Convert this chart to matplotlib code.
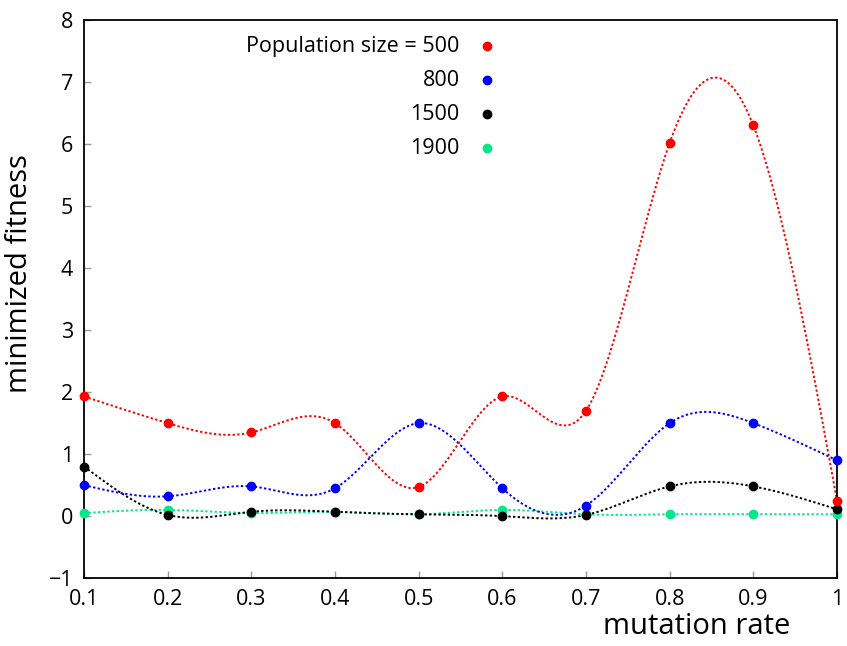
import numpy as np
import matplotlib
matplotlib.use("Agg")
import matplotlib.pyplot as plt

plt.rcParams["font.family"] = ["Open Sans", "DejaVu Sans"]

# data
mutation_rate = [0.1, 0.2, 0.3, 0.4, 0.5, 0.6, 0.7, 0.8, 0.9, 1.0]
fit_500 = [1.93, 1.50, 1.35, 1.50, 0.47, 1.93, 1.70, 6.02, 6.30, 0.25]
fit_800 = [0.50, 0.32, 0.48, 0.45, 1.50, 0.45, 0.17, 1.50, 1.50, 0.90]
fit_1500 = [0.80, 0.02, 0.07, 0.07, 0.03, 0.00, 0.02, 0.48, 0.48, 0.11]
fit_1900 = [0.05, 0.10, 0.05, 0.07, 0.03, 0.10, 0.03, 0.03, 0.03, 0.03]
legend_labels = ["Population size = 500", "800", "1500", "1900"]
colors = ["#ff0000", "#0000ff", "#000000", "#00e88a"]


def natural_spline(x, y, n=400):
    # natural cubic spline, like gnuplot's "smooth csplines"
    x = np.asarray(x, float)
    y = np.asarray(y, float)
    m = len(x)
    h = np.diff(x)
    A = np.zeros((m, m))
    b = np.zeros(m)
    A[0, 0] = A[-1, -1] = 1
    for i in range(1, m - 1):
        A[i, i - 1] = h[i - 1]
        A[i, i] = 2 * (h[i - 1] + h[i])
        A[i, i + 1] = h[i]
        b[i] = 6 * ((y[i + 1] - y[i]) / h[i] - (y[i] - y[i - 1]) / h[i - 1])
    M = np.linalg.solve(A, b)
    xs = np.linspace(x[0], x[-1], n)
    idx = np.clip(np.searchsorted(x, xs) - 1, 0, m - 2)
    x0, x1 = x[idx], x[idx + 1]
    hh = x1 - x0
    t0, t1 = x1 - xs, xs - x0
    ys = (M[idx] * t0 ** 3 + M[idx + 1] * t1 ** 3) / (6 * hh) \
        + (y[idx] / hh - M[idx] * hh / 6) * t0 \
        + (y[idx + 1] / hh - M[idx + 1] * hh / 6) * t1
    return xs, ys


fig = plt.figure(figsize=(8.47, 6.46), dpi=100)
ax = fig.add_axes([0.0992, 0.105, 0.889, 0.864])

series = [fit_500, fit_800, fit_1500, fit_1900]
for vals, c in zip(series[::-1], colors[::-1]):
    xs, ys = natural_spline(mutation_rate, vals)
    ax.plot(xs, ys, color=c, lw=1.4, ls=(0, (1.2, 1.2)), clip_on=False)
    ax.plot(mutation_rate, vals, "o", color=c, ms=6, clip_on=False, zorder=3)

ax.set_xlim(0.1, 1.0)
ax.set_ylim(-1, 8)
ax.set_xticks(mutation_rate)
ax.set_xticklabels(["0.1", "0.2", "0.3", "0.4", "0.5", "0.6", "0.7", "0.8", "0.9", "1"])
ax.set_yticks(range(-1, 9))
ax.tick_params(direction="in", length=5, width=1, color="#999999",
               labelsize=15.5, pad=8, top=False, right=False)
for s in ax.spines.values():
    s.set_linewidth(1.3)

ax.set_ylabel("minimized fitness", fontsize=21)
ax.yaxis.set_label_coords(-0.066, 0.545)
fig.text(0.933, 0.008, "mutation rate", fontsize=21, ha="right", va="bottom")

# legend drawn as text + dots, right-aligned like gnuplot
for i, (lab, c) in enumerate(zip(legend_labels, colors)):
    ty = 0.953 - i * 0.061
    ax.text(0.499, ty, lab, transform=ax.transAxes, ha="right", va="center",
            fontsize=15.5)
    ax.plot([0.535], [ty], "o", color=c, ms=6, transform=ax.transAxes)

fig.savefig("out.png", dpi=100)
